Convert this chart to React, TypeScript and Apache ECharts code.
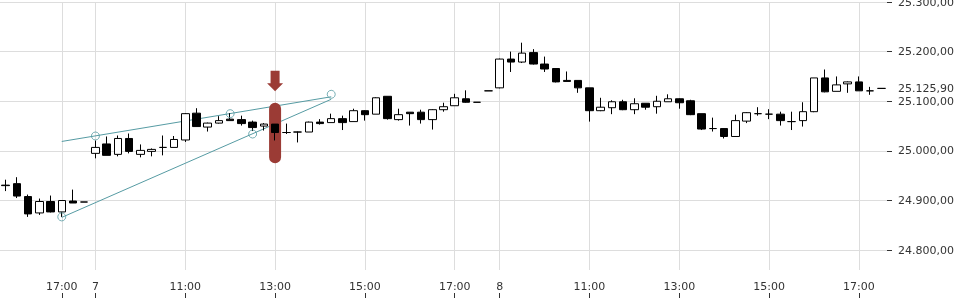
import { useEffect, useRef } from "react";
import * as echarts from "echarts";

// Trading sessions (15-minute candles)
const sessions = [
  { day: "6", start: "15:45", count: 8 },
  { day: "7", start: "09:00", count: 36 },
  { day: "8", start: "09:00", count: 35 },
];

const tickIndices = [5, 8, 16, 24, 32, 40, 44, 52, 60, 68, 76];
const tickLabels = ["17:00", "7", "11:00", "13:00", "15:00", "17:00", "8", "11:00", "13:00", "15:00", "17:00"];

const opens = [
  24931, 24934, 24908, 24875, 24898, 24877, 24899, 24897,
  24995, 25014, 24993, 25025, 24993, 24999, 25007, 25007, 25022, 25076, 25048, 25056, 25064, 25063, 25058, 25050,
  25054, 25037, 25038, 25038, 25058, 25057, 25065, 25059, 25081, 25074, 25110, 25063, 25078, 25078, 25063, 25083,
  25091, 25105, 25098, 25121,
  25127, 25185, 25179, 25198, 25175, 25166, 25142, 25142, 25127, 25081, 25087, 25099, 25083, 25096, 25089, 25099,
  25105, 25101, 25075, 25045, 25045, 25029, 25060, 25075, 25074, 25074, 25059, 25061, 25079, 25147, 25120, 25135,
  25139, 25121, 25125.9,
];
const closes = [
  24930, 24909, 24873, 24898, 24877, 24900, 24895, 24897,
  25007, 24991, 25025, 24999, 25001, 25003, 25007, 25023, 25075, 25049, 25056, 25061, 25061, 25055, 25047, 25054,
  25037, 25037, 25038, 25058, 25055, 25065, 25057, 25081, 25073, 25107, 25065, 25073, 25075, 25063, 25083, 25089,
  25107, 25098, 25098, 25121,
  25185, 25179, 25197, 25175, 25165, 25139, 25140, 25127, 25081, 25088, 25099, 25083, 25095, 25088, 25100, 25105,
  25097, 25073, 25044, 25045, 25029, 25061, 25077, 25075, 25074, 25061, 25059, 25079, 25147, 25119, 25133, 25139,
  25121, 25121, 25125.9,
];
const lows = [
  24919, 24905, 24867, 24871, 24876, 24867, 24895, 24897,
  24985, 24991, 24989, 24995, 24987, 24989, 24991, 25007, 25018, 25049, 25039, 25055, 25061, 25051, 25040, 25041,
  25021, 25034, 25017, 25038, 25053, 25057, 25042, 25059, 25061, 25074, 25063, 25061, 25051, 25055, 25043, 25079,
  25091, 25097, 25098, 25121,
  25126, 25159, 25177, 25174, 25159, 25138, 25140, 25117, 25059, 25080, 25074, 25082, 25074, 25083, 25075, 25099,
  25085, 25072, 25042, 25039, 25025, 25028, 25056, 25071, 25064, 25051, 25042, 25049, 25078, 25118, 25120, 25117,
  25121, 25113, 25125.9,
];
const highs = [
  24942, 24947, 24912, 24904, 24910, 24900, 24922, 24897,
  25021, 25029, 25031, 25035, 25013, 25005, 25031, 25030, 25076, 25086, 25057, 25070, 25076, 25071, 25061, 25056,
  25054, 25055, 25039, 25059, 25064, 25075, 25071, 25085, 25082, 25108, 25110, 25085, 25078, 25083, 25084, 25097,
  25115, 25122, 25098, 25121,
  25186, 25200, 25218, 25205, 25190, 25167, 25160, 25142, 25127, 25107, 25102, 25103, 25106, 25096, 25111, 25114,
  25106, 25103, 25075, 25067, 25046, 25073, 25078, 25088, 25084, 25079, 25079, 25098, 25147, 25164, 25150, 25140,
  25150, 25129, 25125.9,
];

const yTicks = [24800, 24900, 25000, 25100, 25200, 25300];
const lastPrice = 25125.9;

const upperTrend = [[5, 25019], [29, 25109]];
const lowerTrend = [[5, 24866], [29, 25104]];
const handles = [[5, 24867], [8, 25030], [20, 25075], [22, 25034], [29, 25114]];

const markerIndex = 24;
const markerHigh = 25097;
const markerLow = 24975;

const TEAL = "#569ba3";
const RED = "#9b3b35";
const GRID = "#dddddd";
const TEXT = "#333333";

function pad(n: number) {
  return (n < 10 ? "0" : "") + n;
}

function buildCategories() {
  const out: string[] = [];
  sessions.forEach((s) => {
    const [h, m] = s.start.split(":").map(Number);
    const base = h * 60 + m;
    for (let k = 0; k < s.count; k++) {
      const t = base + 15 * k;
      out.push(s.day + " " + pad(Math.floor(t / 60)) + ":" + pad(t % 60));
    }
  });
  return out;
}

function fmt(v: number) {
  const [i, d] = v.toFixed(2).split(".");
  return i.replace(/\B(?=(\d{3})+(?!\d))/g, ".") + "," + d;
}

export default function App() {
  const ref = useRef<HTMLDivElement>(null);
  useEffect(() => {
    if (!ref.current) return;
    const chart = echarts.init(ref.current, undefined, { renderer: "svg" });
    const categories = buildCategories();
    const candles = opens.map((o, i) => [o, closes[i], lows[i], highs[i]]);
    const isTick = (index: number) => tickIndices.indexOf(index) >= 0;

    chart.setOption({
      animation: false,
      textStyle: { fontFamily: "DejaVu Sans" },
      grid: { left: 0, right: 73, top: 2, bottom: 30, outerBoundsMode: "none" },
      xAxis: {
        type: "category",
        data: categories,
        boundaryGap: true,
        offset: 28,
        axisLine: { show: false },
        axisTick: {
          show: true,
          inside: true,
          length: 5,
          alignWithLabel: true,
          interval: (index: number) => isTick(index),
          lineStyle: { color: TEXT },
        },
        axisLabel: {
          inside: true,
          margin: 6,
          interval: (index: number) => isTick(index),
          formatter: (_v: string, index: number) => tickLabels[tickIndices.indexOf(index)] ?? "",
          fontSize: 11,
          color: TEXT,
        },
        splitLine: { show: false },
      },
      yAxis: {
        type: "value",
        position: "right",
        min: 24760,
        max: 25300,
        scale: true,
        axisLine: { show: false },
        axisTick: { show: true, length: 5, customValues: yTicks, lineStyle: { color: TEXT } },
        axisLabel: { customValues: yTicks, formatter: (v: number) => fmt(v), margin: 11, fontSize: 11, color: TEXT },
        splitLine: { show: true, lineStyle: { color: GRID, width: 1 } },
      },
      series: [
        {
          type: "line",
          z: 2,
          data: upperTrend,
          symbol: "none",
          lineStyle: { color: TEAL, width: 1 },
          silent: true,
        },
        {
          type: "line",
          z: 2,
          data: lowerTrend,
          symbol: "none",
          lineStyle: { color: TEAL, width: 1 },
          silent: true,
        },
        {
          type: "custom",
          z: 3,
          data: [[markerIndex, markerHigh, markerLow]],
          encode: { x: 0, y: [1, 2] },
          renderItem: (_p: any, api: any) => {
            const top = api.coord([api.value(0), api.value(1)]);
            const bot = api.coord([api.value(0), api.value(2)]);
            const w = 12;
            const cx = top[0];
            const tip = top[1] - 11.5;
            return {
              type: "group",
              children: [
                {
                  type: "rect",
                  shape: { x: cx - w / 2, y: top[1], width: w, height: bot[1] - top[1], r: w / 2 },
                  style: { fill: RED },
                },
                {
                  type: "polygon",
                  shape: {
                    points: [
                      [cx - 4.5, tip - 20.5],
                      [cx + 4.5, tip - 20.5],
                      [cx + 4.5, tip - 8],
                      [cx + 8, tip - 8],
                      [cx, tip],
                      [cx - 8, tip - 8],
                      [cx - 4.5, tip - 8],
                    ],
                  },
                  style: { fill: RED },
                },
              ],
            };
          },
        },
        {
          type: "candlestick",
          z: 4,
          data: candles,
          barWidth: 8,
          itemStyle: {
            color: "#ffffff",
            color0: "#000000",
            borderColor: "#000000",
            borderColor0: "#000000",
            borderWidth: 1,
          },
          markLine: {
            z: 1,
            silent: true,
            symbol: "none",
            label: { show: false },
            lineStyle: { color: GRID, type: "solid", width: 1 },
            data: tickIndices.map((i) => ({ xAxis: i })),
          },
        },
        {
          type: "line",
          z: 1,
          data: [[0, lastPrice], [categories.length - 1, lastPrice]],
          symbol: "none",
          lineStyle: { width: 0, color: "rgba(0,0,0,0)" },
          silent: true,
          markLine: {
            silent: true,
            symbol: "none",
            lineStyle: { color: "rgba(0,0,0,0)", width: 0 },
            label: {
              show: true,
              position: "end",
              distance: 11,
              formatter: () => fmt(lastPrice),
              color: TEXT,
              fontSize: 11,
            },
            data: [{ yAxis: lastPrice }],
          },
        },
        {
          type: "scatter",
          z: 5,
          data: handles,
          symbol: "circle",
          symbolSize: 8,
          itemStyle: { color: "rgba(255,255,255,0)", borderColor: TEAL, borderWidth: 1 },
          silent: true,
        },
      ],
    });
    return () => chart.dispose();
  }, []);
  return (
    <div
      ref={ref}
      style={{ position: "fixed", left: 0, top: 0, width: 960, height: 300 }}
    />
  );
}
